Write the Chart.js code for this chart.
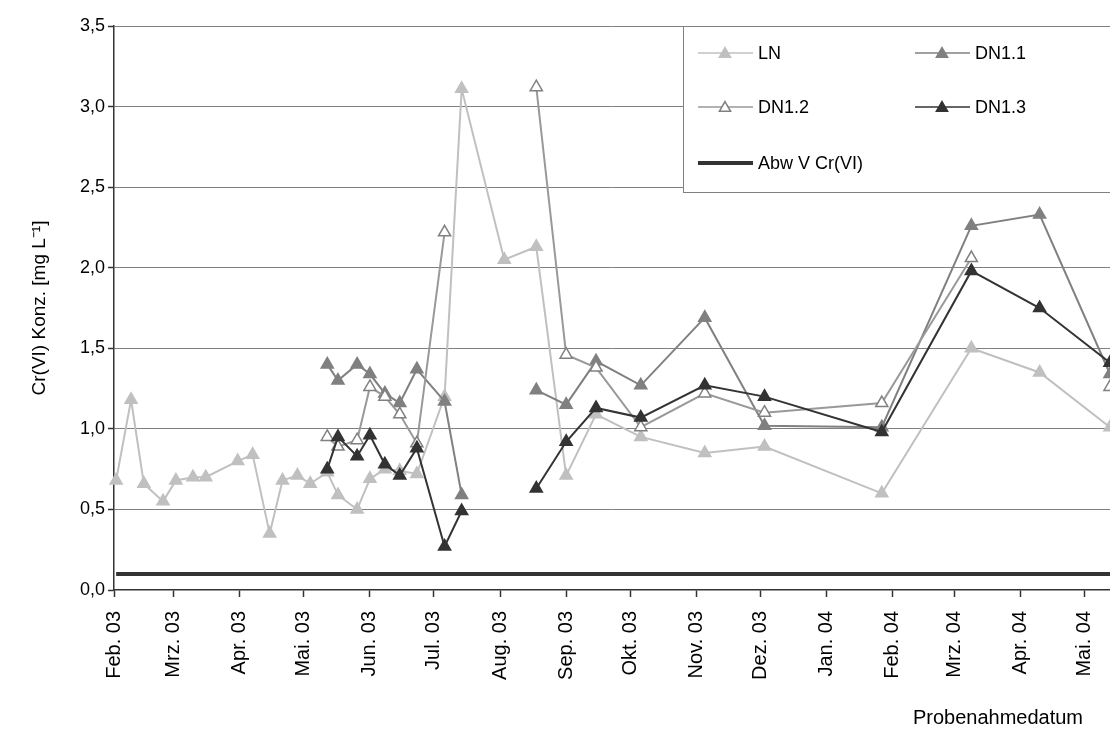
<!DOCTYPE html>
<html>
<head>
<meta charset="utf-8">
<script src="https://cdn.jsdelivr.net/npm/chart.js@4.4.1/dist/chart.umd.min.js"></script>
<style>
  html, body { margin: 0; padding: 0; background: #fff; }
  #wrap { width: 1110px; height: 731px; position: relative; }
</style>
</head>
<body>
<div id="wrap"><canvas id="crChart"></canvas></div>
<script>
// Probenahmetermine
const sampleDates = [
  "2003-02-02", "2003-02-09", "2003-02-15", "2003-02-24", "2003-03-02", "2003-03-10",
  "2003-03-16", "2003-03-31", "2003-04-07", "2003-04-15", "2003-04-21", "2003-04-28",
  "2003-05-04", "2003-05-12", "2003-05-17", "2003-05-26", "2003-06-01", "2003-06-08",
  "2003-06-15", "2003-06-23", "2003-07-06", "2003-07-14", "2003-08-03", "2003-08-18",
  "2003-09-01", "2003-09-15", "2003-10-06", "2003-11-05", "2003-12-03", "2004-01-27",
  "2004-03-09", "2004-04-10", "2004-05-13"
];

// Cr(VI) Konzentrationen [mg/L], null = keine Messung
const lnValues = [
  0.68, 1.18, 0.66, 0.55, 0.68, 0.70, 0.70, 0.80, 0.84, 0.35, 0.68, 0.71,
  0.66, 0.73, 0.59, 0.50, 0.69, 0.75, 0.74, 0.72, 1.20, 3.11, 2.05, 2.13,
  0.71, 1.09, 0.95, 0.85, 0.89, 0.60, 1.50, 1.35, 1.01
];
const dn11Values = [
  null, null, null, null, null, null, null, null, null, null, null, null,
  null, 1.40, 1.30, 1.40, 1.34, 1.22, 1.16, 1.37, 1.17, 0.59, null, 1.24,
  1.15, 1.42, 1.27, 1.69, 1.02, 1.01, 2.26, 2.33, 1.34
];
const dn12Values = [
  null, null, null, null, null, null, null, null, null, null, null, null,
  null, 0.95, 0.89, 0.93, 1.26, 1.20, 1.09, 0.91, 2.22, null, null, 3.12,
  1.46, 1.38, 1.01, 1.22, 1.10, 1.16, 2.06, null, 1.26
];
const dn13Values = [
  null, null, null, null, null, null, null, null, null, null, null, null,
  null, 0.75, 0.95, 0.83, 0.96, 0.78, 0.71, 0.88, 0.27, 0.49, null, 0.63,
  0.92, 1.13, 1.07, 1.27, 1.20, 0.98, 1.98, 1.75, 1.41
];
const abwLimit = 0.1; // Abw V Cr(VI)

// Achsenbeschriftung
const monthStarts = [
  "2003-02-01", "2003-03-01", "2003-04-01", "2003-05-01", "2003-06-01", "2003-07-01",
  "2003-08-01", "2003-09-01", "2003-10-01", "2003-11-01", "2003-12-01", "2004-01-01",
  "2004-02-01", "2004-03-01", "2004-04-01", "2004-05-01"
];
const monthLabels = [
  "Feb. 03", "Mrz. 03", "Apr. 03", "Mai. 03", "Jun. 03", "Jul. 03", "Aug. 03", "Sep. 03",
  "Okt. 03", "Nov. 03", "Dez. 03", "Jan. 04", "Feb. 04", "Mrz. 04", "Apr. 04", "Mai. 04"
];
const yTickValues = [0, 0.5, 1.0, 1.5, 2.0, 2.5, 3.0, 3.5];

const FONT = '"Liberation Sans", Arial, sans-serif';

// Tage seit 1. Feb. 2003
const startMs = Date.UTC(2003, 1, 1);
function dayOf(s) {
  const p = s.split("-").map(Number);
  return (Date.UTC(p[0], p[1] - 1, p[2]) - startMs) / 86400000;
}
const sampleDays = sampleDates.map(dayOf);
const tickDays = monthStarts.map(dayOf);
const lastDay = sampleDays[sampleDays.length - 1];

function toPoints(values) {
  return values.map(function (v, i) { return { x: sampleDays[i], y: v }; });
}

function triangleSeries(label, values, line, fill, edge, order) {
  return {
    label: label,
    data: toPoints(values),
    borderColor: line,
    borderWidth: 2,
    pointStyle: "triangle",
    pointRadius: 7,
    pointBorderWidth: 1.5,
    pointBackgroundColor: fill,
    pointBorderColor: edge,
    spanGaps: false,
    tension: 0,
    clip: false,
    order: order
  };
}

const datasets = [
  triangleSeries("LN", lnValues, "#c0c0c0", "#c0c0c0", "#c0c0c0", 4),
  triangleSeries("DN1.1", dn11Values, "#808080", "#808080", "#808080", 3),
  triangleSeries("DN1.2", dn12Values, "#999999", "#ffffff", "#808080", 2),
  triangleSeries("DN1.3", dn13Values, "#333333", "#333333", "#333333", 1),
  {
    label: "Abw V Cr(VI)",
    data: [{ x: sampleDays[0], y: abwLimit }, { x: lastDay, y: abwLimit }],
    borderColor: "#333333",
    borderWidth: 4,
    pointRadius: 0,
    pointStyle: false,
    clip: false,
    order: 5
  }
];

function drawTriangle(ctx, x, y, r) {
  ctx.beginPath();
  ctx.moveTo(x, y - r);
  ctx.lineTo(x + r * Math.sin(2 * Math.PI / 3), y + r / 2);
  ctx.lineTo(x - r * Math.sin(2 * Math.PI / 3), y + r / 2);
  ctx.closePath();
}

// Legende im Diagrammbereich oben rechts + Titel der x-Achse
const legendBox = {
  id: "legendBox",
  afterDraw(chart) {
    const ctx = chart.ctx;
    ctx.save();
    ctx.fillStyle = "#ffffff";
    ctx.strokeStyle = "#808080";
    ctx.lineWidth = 1;
    ctx.fillRect(683.5, 26.5, 440, 166);
    ctx.strokeRect(683.5, 26.5, 440, 166);

    const slots = [[698, 53], [915, 53], [698, 107], [915, 107], [698, 163]];
    chart.data.datasets.forEach(function (ds, i) {
      const x = slots[i][0], y = slots[i][1];
      ctx.strokeStyle = ds.borderColor;
      ctx.lineWidth = ds.borderWidth === 4 ? 4 : 1.5;
      ctx.beginPath();
      ctx.moveTo(x, y);
      ctx.lineTo(x + 55, y);
      ctx.stroke();
      if (ds.pointRadius > 0) {
        drawTriangle(ctx, x + 27, y + 1, 6.5);
        ctx.fillStyle = ds.pointBackgroundColor;
        ctx.fill();
        ctx.lineWidth = 1.5;
        ctx.strokeStyle = ds.pointBorderColor;
        ctx.stroke();
      }
      ctx.fillStyle = "#000000";
      ctx.font = "18px " + FONT;
      ctx.textBaseline = "middle";
      ctx.textAlign = "left";
      ctx.fillText(ds.label, x + 60, y + 1);
    });

    ctx.font = "20px " + FONT;
    ctx.textAlign = "right";
    ctx.textBaseline = "middle";
    ctx.fillStyle = "#000000";
    ctx.fillText("Probenahmedatum", 1083, 718);
    ctx.restore();
  }
};

new Chart(document.getElementById("crChart"), {
  type: "line",
  data: { datasets: datasets },
  plugins: [legendBox],
  options: {
    responsive: true,
    maintainAspectRatio: false,
    animation: false,
    layout: { autoPadding: false, padding: { top: 26, right: 0, bottom: 0, left: 0 } },
    plugins: {
      legend: { display: false },
      tooltip: { enabled: false }
    },
    scales: {
      x: {
        type: "linear",
        min: 0,
        max: lastDay,
        afterBuildTicks: function (scale) {
          scale.ticks = tickDays.map(function (d) { return { value: d }; });
        },
        afterFit: function (scale) {
          scale.height = 141;
          scale.paddingLeft = 0;
          scale.paddingRight = 0;
        },
        ticks: {
          autoSkip: false,
          minRotation: 90,
          maxRotation: 90,
          padding: 14,
          color: "#000000",
          font: { family: FONT, size: 20 },
          callback: function (value) {
            const i = tickDays.indexOf(value);
            return i >= 0 ? monthLabels[i] : "";
          }
        },
        grid: {
          drawOnChartArea: false,
          tickLength: 7,
          tickColor: "#333333",
          tickWidth: 1.5
        },
        border: { color: "#333333", width: 1.5 }
      },
      y: {
        min: 0,
        max: 3.5,
        afterBuildTicks: function (scale) {
          scale.ticks = yTickValues.map(function (v) { return { value: v }; });
        },
        afterFit: function (scale) { scale.width = 114; },
        ticks: {
          padding: 3,
          color: "#000000",
          font: { family: FONT, size: 18 },
          callback: function (value) { return value.toFixed(1).replace(".", ","); }
        },
        grid: {
          color: function (c) { return c.tick && c.tick.value === 0 ? "rgba(0,0,0,0)" : "#808080"; },
          lineWidth: 1,
          tickLength: 6,
          tickColor: "#333333",
          tickWidth: 1.5
        },
        border: { color: "#333333", width: 1.5 },
        title: {
          display: true,
          text: "Cr(VI) Konz. [mg L\u207B\u00B9]",
          color: "#000000",
          font: { family: FONT, size: 19 },
          padding: { top: 28, bottom: 0 }
        }
      }
    }
  }
});
</script>
</body>
</html>
